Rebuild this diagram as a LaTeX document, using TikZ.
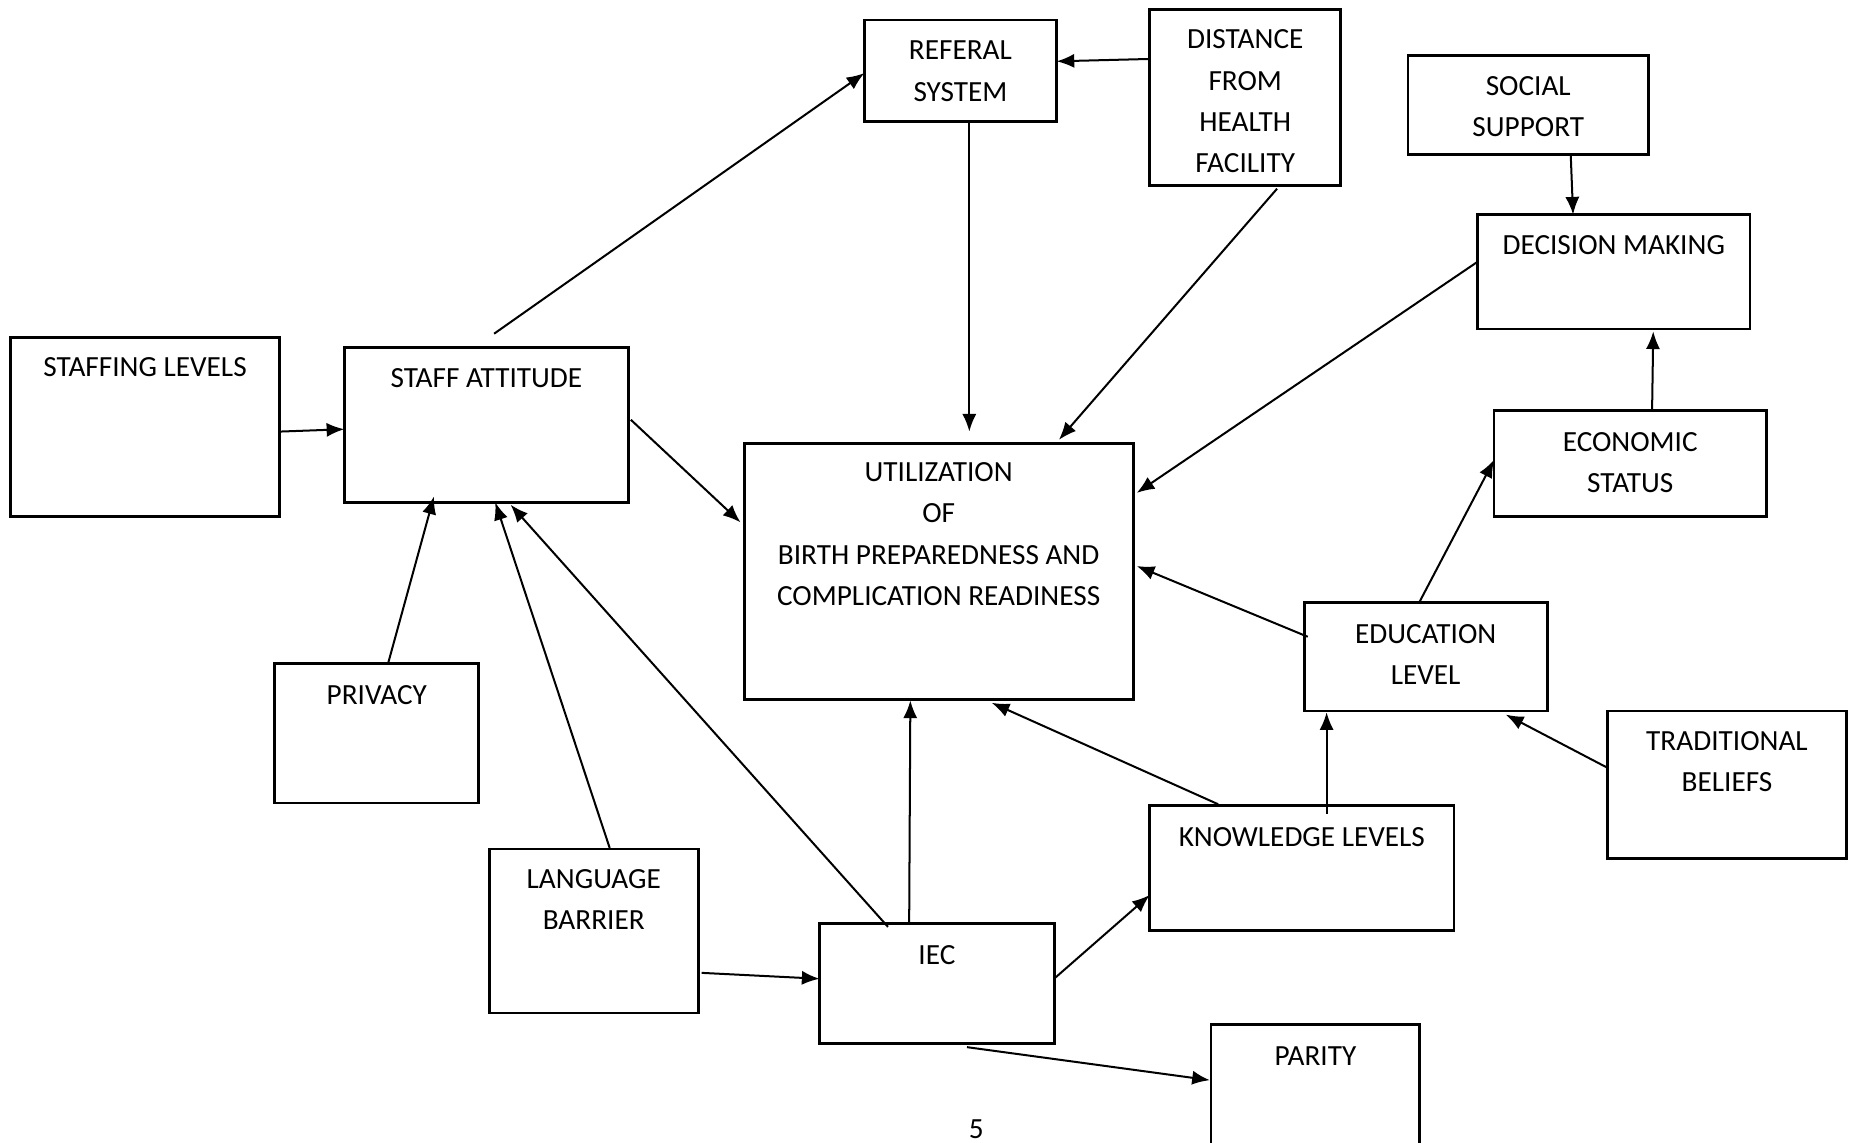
\documentclass[tikz,border=0pt]{standalone}
\usepackage{fontspec}
\setmainfont{Carlito}
\usetikzlibrary{arrows.meta}
\begin{document}
\begin{tikzpicture}[x=0.5pt,y=-0.5pt,
  font=\fontsize{12.4}{17.5}\selectfont,
  bx/.style={draw,line width=1.2pt,rectangle,inner sep=0pt,outer sep=0pt},
  txt/.style={anchor=north,inner sep=0pt,align=center},
  arr/.style={line width=0.85pt,-{Latex[length=7.5pt,width=6pt]}},
  ln/.style={line width=0.85pt}]
\useasboundingbox[fill=white] (0,0) rectangle (1568,969);
% boxes
\node[bx,minimum width=81.5pt,minimum height=43pt] (ref) at (814.5,60) {};
\node[bx,minimum width=81pt,minimum height=74.5pt] (dist) at (1056,82.5) {};
\node[bx,minimum width=102pt,minimum height=42pt] (soc) at (1296,89) {};
\node[bx,minimum width=115.5pt,minimum height=48.5pt] (dec) at (1368.5,230.5) {};
\node[bx,minimum width=114pt,minimum height=76pt] (stf) at (123,362) {};
\node[bx,minimum width=120.5pt,minimum height=65.5pt] (att) at (412.5,360.5) {};
\node[bx,minimum width=165pt,minimum height=108.5pt] (util) at (796,484.5) {};
\node[bx,minimum width=115.5pt,minimum height=45pt] (econ) at (1382.5,393) {};
\node[bx,minimum width=103pt,minimum height=46pt] (edu) at (1209,557) {};
\node[bx,minimum width=86.5pt,minimum height=59pt] (priv) at (319.5,622) {};
\node[bx,minimum width=101.5pt,minimum height=62.5pt] (trad) at (1464.5,665.5) {};
\node[bx,minimum width=129pt,minimum height=53pt] (know) at (1104,736) {};
\node[bx,minimum width=88.5pt,minimum height=69.5pt] (lang) at (503.5,789.5) {};
\node[bx,minimum width=99.5pt,minimum height=51pt] (iec) at (794.5,834) {};
\node[bx,minimum width=88.5pt,minimum height=58pt] (par) at (1115.5,927) {};
% texts
\node[txt] (refT) at ([yshift=-8.75pt]ref.north) {REFERAL\\SYSTEM};
\node[txt] (distT) at ([yshift=-8.5pt]dist.north) {DISTANCE\\FROM\\HEALTH\\FACILITY};
\node[txt] (socT) at ([yshift=-8.75pt]soc.north) {SOCIAL\\SUPPORT};
\node[txt] (decT) at ([yshift=-8.5pt]dec.north) {DECISION MAKING};
\node[txt] (stfT) at ([yshift=-8.5pt]stf.north) {STAFFING LEVELS};
\node[txt] (attT) at ([yshift=-8.5pt]att.north) {STAFF ATTITUDE};
\node[txt] (utilT) at ([yshift=-8pt]util.north) {UTILIZATION\\OF\\BIRTH PREPAREDNESS AND\\COMPLICATION READINESS};
\node[txt] (econT) at ([yshift=-9pt]econ.north) {ECONOMIC\\STATUS};
\node[txt] (eduT) at ([yshift=-9pt]edu.north) {EDUCATION\\LEVEL};
\node[txt] (privT) at ([yshift=-9pt]priv.north) {PRIVACY};
\node[txt] (tradT) at ([yshift=-8.5pt]trad.north) {TRADITIONAL\\BELIEFS};
\node[txt] (knowT) at ([yshift=-9pt]know.north) {KNOWLEDGE LEVELS};
\node[txt] (langT) at ([yshift=-8.5pt]lang.north) {LANGUAGE\\BARRIER};
\node[txt] (iecT) at ([yshift=-9pt]iec.north) {IEC};
\node[txt] (parT) at ([yshift=-9pt]par.north) {PARITY};
\node[inner sep=0pt] (pg) at (828,958) {5};
% connectors
\draw[arr] ([xshift=63.5pt,yshift=6pt]att.north west) -- ([yshift=-1pt]ref.west);
\draw[arr] ([yshift=-21pt]dist.north west) -- ([yshift=-17.5pt]ref.north east);
\draw[arr] ([xshift=3.75pt]ref.south) -- ([xshift=13pt,yshift=5pt]util.north);
\draw[arr] ([xshift=13.5pt,yshift=-1.5pt]dist.south) -- ([xshift=51pt,yshift=1.5pt]util.north);
\draw[arr] ([xshift=18pt]soc.south) -- ([xshift=-17.25pt]dec.north);
\draw[arr] ([yshift=-20pt]dec.north west) -- ([xshift=1.5pt,yshift=-21pt]util.north east);
\draw[arr] ([xshift=9.25pt]econ.north) -- ([xshift=16.75pt,yshift=-1pt]dec.south);
\draw[arr] ([yshift=-2pt]stf.east) -- ([yshift=-1.75pt]att.west);
\draw[arr] ([xshift=1pt,yshift=2.25pt]att.east) -- ([xshift=-1.5pt,yshift=-33.5pt]util.north west);
\draw[arr] ([xshift=-2.5pt,yshift=0.5pt]edu.north) -- ([yshift=1.5pt]econ.west);
\draw[arr] ([xshift=1.5pt,yshift=-14.5pt]edu.north west) -- ([xshift=1.5pt,yshift=2.25pt]util.east);
\draw[arr] ([xshift=4.75pt]priv.north) -- ([xshift=-22.25pt,yshift=2.5pt]att.south);
\draw[arr] ([xshift=6.75pt,yshift=0.5pt]lang.north) -- ([xshift=3.75pt]att.south);
\draw[arr] ([xshift=29pt,yshift=-1.5pt]iec.north west) -- ([xshift=10.25pt,yshift=-1pt]att.south);
\draw[arr] ([xshift=-11.75pt,yshift=0.5pt]iec.north) -- ([xshift=-12pt,yshift=-0.5pt]util.south);
\draw[arr] ([xshift=29pt,yshift=0.5pt]know.north west) -- ([xshift=22.5pt,yshift=-1.5pt]util.south);
\draw[arr] ([xshift=10.5pt,yshift=-3.5pt]know.north) -- ([xshift=-42pt,yshift=-0.5pt]edu.south);
\draw[arr] ([yshift=-24pt]trad.north west) -- ([xshift=-17.5pt,yshift=-1.5pt]edu.south east);
\draw[arr] ([xshift=1.5pt,yshift=-52.5pt]lang.north east) -- ([yshift=2pt]iec.west);
\draw[arr] ([xshift=0.5pt,yshift=2.5pt]iec.east) -- ([yshift=15pt]know.south west);
\draw[arr] ([xshift=12.75pt,yshift=-1.5pt]iec.south) -- ([xshift=-0.5pt,yshift=-23.5pt]par.north west);
\end{tikzpicture}
\end{document}
